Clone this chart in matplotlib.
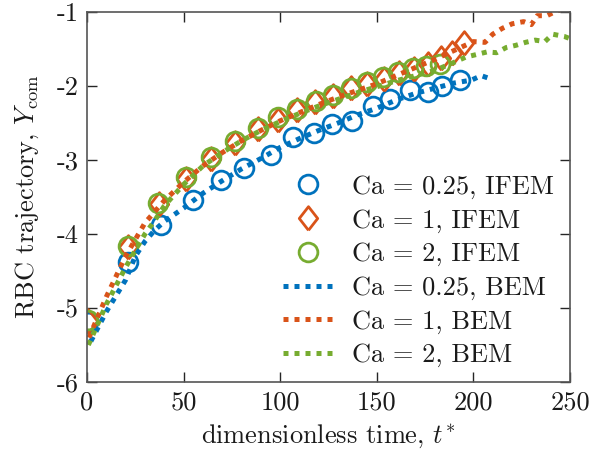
import matplotlib
matplotlib.use("Agg")
import matplotlib.pyplot as plt
import numpy as np

# ---------------- data ----------------
t_ifem_025 = [0.5, 21.4, 38.3, 54.7, 69.3, 81.4, 95.2, 106.7, 117.3, 126.8, 137.2,
              148.0, 157.0, 167.0, 176.5, 183.5, 193.0]
y_ifem_025 = [-5.19, -4.38, -3.88, -3.54, -3.27, -3.11, -2.93, -2.69, -2.63, -2.52, -2.47,
              -2.27, -2.17, -2.05, -2.08, -2.00, -1.92]

t_ifem_1 = [0.5, 21.0, 37.5, 51.0, 64.0, 76.5, 88.5, 99.0, 108.5, 118.0, 127.5, 136.5,
            145.0, 153.5, 161.5, 169.5, 176.5, 183.0, 189.0, 195.0]
y_ifem_1 = [-5.18, -4.18, -3.60, -3.25, -2.98, -2.77, -2.58, -2.46, -2.33, -2.21, -2.13,
            -2.03, -1.97, -1.90, -1.82, -1.77, -1.70, -1.62, -1.55, -1.42]

t_ifem_2 = [0.5, 21.0, 37.0, 51.0, 64.0, 76.5, 88.5, 99.0, 108.5, 118.5, 127.5, 136.5,
            145.0, 153.0, 161.0, 168.5, 175.5, 182.5]
y_ifem_2 = [-5.16, -4.16, -3.58, -3.23, -2.96, -2.74, -2.57, -2.42, -2.31, -2.20, -2.12,
            -2.03, -1.95, -1.88, -1.81, -1.76, -1.73, -1.70]

t_bem_025 = [2, 10, 20, 25, 30, 35, 40, 50, 60, 70, 80, 90, 100, 110, 120, 130, 140,
             150, 160, 170, 180, 190, 199, 204, 208.5]
y_bem_025 = [-5.45, -5.05, -4.62, -4.30, -4.10, -3.95, -3.83, -3.65, -3.45, -3.28, -3.12,
             -2.98, -2.83, -2.71, -2.60, -2.50, -2.39, -2.30, -2.19, -2.10, -2.03, -1.96,
             -1.92, -1.86, -1.90]

t_bem_1 = [1, 10, 20, 30, 40, 50, 60, 70, 80, 90, 100, 110, 120, 130, 140, 150, 160,
           170, 180, 190, 200, 206, 210, 215, 220, 226, 230, 233, 238, 242, 246]
y_bem_1 = [-5.40, -4.85, -4.30, -3.85, -3.55, -3.30, -3.08, -2.90, -2.74, -2.60, -2.47,
           -2.36, -2.25, -2.15, -2.06, -1.97, -1.86, -1.75, -1.64, -1.52, -1.40, -1.41,
           -1.30, -1.22, -1.16, -1.13, -1.17, -1.05, -1.05, -1.00, -0.96]

t_bem_2 = [0.7, 5, 10, 15, 20, 25, 30, 35, 40, 50, 60, 70, 80, 90, 100, 110, 120, 130,
           140, 150, 160, 170, 180, 190, 196, 207, 212, 217, 222, 227, 232, 237, 241, 247, 250]
y_bem_2 = [-5.50, -5.25, -4.95, -4.70, -4.45, -4.22, -4.00, -3.82, -3.62, -3.33, -3.08,
           -2.90, -2.74, -2.60, -2.48, -2.37, -2.27, -2.18, -2.09, -2.01, -1.93, -1.86,
           -1.79, -1.68, -1.61, -1.54, -1.55, -1.48, -1.45, -1.41, -1.38, -1.40, -1.30,
           -1.33, -1.36]

labels = ["Ca = 0.25, IFEM", "Ca = 1, IFEM", "Ca = 2, IFEM",
          "Ca = 0.25, BEM", "Ca = 1, BEM", "Ca = 2, BEM"]

xticks = [0, 50, 100, 150, 200, 250]
xtick_labels = ["0", "50", "100", "150", "200", "250"]
yticks = [-6, -5, -4, -3, -2, -1]
ytick_labels = ["-6", "-5", "-4", "-3", "-2", "-1"]

# ---------------- style ----------------
plt.rcParams["font.family"] = ["cmr10", "DejaVu Serif"]
plt.rcParams["mathtext.fontset"] = "cm"
plt.rcParams["axes.unicode_minus"] = False
plt.rcParams["axes.formatter.use_mathtext"] = True

blue = "#0072BD"
orange = "#D95319"
green = "#77AC30"
fs = 19
txtc = "#1a1a1a"

fig = plt.figure(figsize=(5.92, 4.57), dpi=100)
ax = fig.add_axes([87/592, 1-382/457, (570-87)/592, (382-12)/457])

diamond = [(0, -1), (0.78, 0), (0, 1), (-0.78, 0), (0, -1)]
mk = dict(linestyle="none", markerfacecolor="none", markeredgewidth=2.0)
ax.plot(t_ifem_025, y_ifem_025, marker="o", markersize=13.5, color=blue, label=labels[0], **mk)
ax.plot(t_ifem_1, y_ifem_1, marker=diamond, markersize=17, color=orange, label=labels[1], **mk)
ax.plot(t_ifem_2, y_ifem_2, marker="o", markersize=13.5, color=green, label=labels[2], **mk)

ls = dict(linewidth=3.6, linestyle=(0, (1, 1.2)), dash_capstyle="butt")
ax.plot(t_bem_025, y_bem_025, color=blue, label=labels[3], **ls)
ax.plot(t_bem_1, y_bem_1, color=orange, label=labels[4], **ls)
ax.plot(t_bem_2, y_bem_2, color=green, label=labels[5], **ls)

ax.set_xlim(0, 250)
ax.set_ylim(-6, -1)
ax.set_xticks(xticks)
ax.set_xticklabels(xtick_labels)
ax.set_yticks(yticks)
ax.set_yticklabels(ytick_labels)
ax.tick_params(direction="in", length=7, width=1, colors="#262626", labelcolor=txtc,
               labelsize=fs, top=True, right=True, pad=6)
for s in ax.spines.values():
    s.set_color("#555555")
    s.set_linewidth(1.2)

ax.set_xlabel(r"dimensionless time, $t^{*}$", fontsize=fs, color=txtc, labelpad=6)
ax.set_ylabel(r"RBC trajectory, $Y_{\mathrm{com}}$", fontsize=fs, color=txtc, labelpad=11)

leg = ax.legend(loc="upper left", bbox_to_anchor=(283/592, 1-175/457),
                bbox_transform=fig.transFigure, frameon=False, fontsize=fs,
                handlelength=1.9, handletextpad=0.72, labelspacing=0.37, borderpad=0,
                borderaxespad=0)
for txt in leg.get_texts():
    txt.set_color(txtc)

fig.savefig("out.png", dpi=100)
